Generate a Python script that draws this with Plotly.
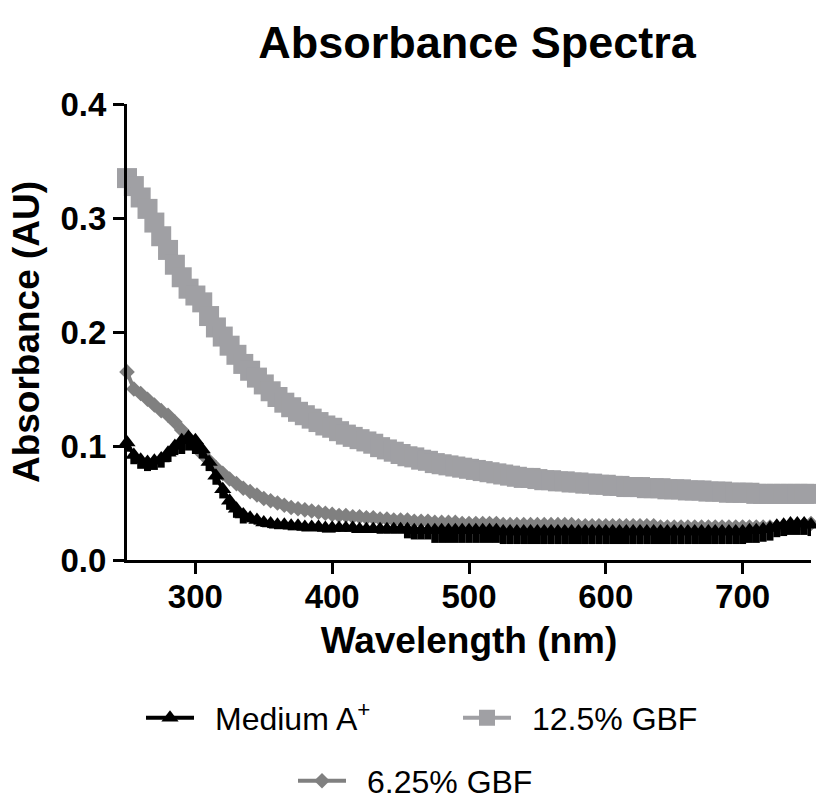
import plotly.graph_objects as go

# Wavelength grid of the scan (nm)
wavelength = list(range(250, 751, 5))

# Medium A+ absorbance (AU)
medium_a = [
    0.103, 0.092, 0.088, 0.086, 0.087, 0.089, 0.094, 0.100, 0.105, 0.108,  # 250-295
    0.105, 0.097, 0.086, 0.074, 0.062, 0.052, 0.045, 0.040, 0.037, 0.035,  # 300-345
    0.033, 0.032, 0.031, 0.031, 0.030, 0.030, 0.029, 0.029, 0.029, 0.028,  # 350-395
    0.028, 0.028, 0.028, 0.028, 0.027, 0.027, 0.027, 0.027, 0.027, 0.027,  # 400-445
    0.027, 0.027, 0.026, 0.026, 0.026, 0.026, 0.026, 0.026, 0.026, 0.026,  # 450-495
    0.026, 0.026, 0.026, 0.026, 0.026, 0.025, 0.025, 0.025, 0.025, 0.025,  # 500-545
    0.025, 0.025, 0.025, 0.025, 0.025, 0.025, 0.025, 0.025, 0.025, 0.025,  # 550-595
    0.025, 0.025, 0.025, 0.025, 0.025, 0.025, 0.025, 0.025, 0.025, 0.025,  # 600-645
    0.025, 0.025, 0.025, 0.025, 0.025, 0.025, 0.025, 0.025, 0.025, 0.025,  # 650-695
    0.025, 0.026, 0.026, 0.027, 0.028, 0.030, 0.031, 0.032, 0.032, 0.032,  # 700-745
    0.031,                                                                 # 750
]

# Medium A+ spread below the mean (AU)
medium_a_sd = [
    0.008, 0.008, 0.008, 0.008, 0.008, 0.008, 0.008, 0.008, 0.012, 0.012,
    0.012, 0.008, 0.008, 0.008, 0.008, 0.008, 0.008, 0.008, 0.004, 0.004,
    0.004, 0.004, 0.004, 0.004, 0.004, 0.004, 0.004, 0.004, 0.004, 0.004,
    0.004, 0.002, 0.002, 0.002, 0.002, 0.002, 0.002, 0.004, 0.004, 0.004,
    0.004, 0.008, 0.008, 0.008, 0.008, 0.011, 0.011, 0.011, 0.011, 0.011,
    0.011, 0.011, 0.011, 0.011, 0.011, 0.011, 0.011, 0.011, 0.011, 0.011,
    0.011, 0.011, 0.011, 0.011, 0.011, 0.011, 0.011, 0.011, 0.011, 0.011,
    0.011, 0.011, 0.011, 0.011, 0.011, 0.011, 0.011, 0.011, 0.011, 0.011,
    0.011, 0.011, 0.011, 0.011, 0.011, 0.011, 0.011, 0.011, 0.011, 0.011,
    0.011, 0.011, 0.011, 0.011, 0.011, 0.010, 0.010, 0.010, 0.010, 0.010,
    0.010,
]

# 12.5% GBF absorbance (AU)
gbf_12_5 = [
    0.335, 0.328, 0.318, 0.308, 0.296, 0.284, 0.272, 0.259, 0.248, 0.238,  # 250-295
    0.232, 0.226, 0.214, 0.204, 0.196, 0.188, 0.180, 0.172, 0.166, 0.160,  # 300-345
    0.154, 0.148, 0.143, 0.138, 0.134, 0.130, 0.127, 0.124, 0.121, 0.118,  # 350-395
    0.116, 0.113, 0.110, 0.108, 0.106, 0.104, 0.102, 0.099, 0.097, 0.095,  # 400-445
    0.093, 0.091, 0.090, 0.088, 0.087, 0.085, 0.084, 0.083, 0.082, 0.081,  # 450-495
    0.080, 0.079, 0.078, 0.077, 0.076, 0.075, 0.074, 0.073, 0.072, 0.072,  # 500-545
    0.071, 0.070, 0.070, 0.069, 0.069, 0.068, 0.068, 0.067, 0.067, 0.066,  # 550-595
    0.066, 0.065, 0.065, 0.064, 0.064, 0.064, 0.063, 0.063, 0.063, 0.062,  # 600-645
    0.062, 0.062, 0.061, 0.061, 0.061, 0.060, 0.060, 0.060, 0.059, 0.059,  # 650-695
    0.059, 0.059, 0.058, 0.058, 0.058, 0.058, 0.058, 0.058, 0.058, 0.058,  # 700-745
    0.058,                                                                 # 750
]

# 6.25% GBF absorbance (AU)
gbf_6_25 = [
    0.165, 0.150, 0.146, 0.141, 0.136, 0.131, 0.127, 0.121, 0.114, 0.107,  # 250-295
    0.100, 0.093, 0.087, 0.081, 0.076, 0.071, 0.067, 0.063, 0.060, 0.057,  # 300-345
    0.054, 0.052, 0.050, 0.048, 0.046, 0.045, 0.044, 0.043, 0.042, 0.041,  # 350-395
    0.040, 0.039, 0.039, 0.038, 0.038, 0.037, 0.037, 0.036, 0.036, 0.035,  # 400-445
    0.035, 0.035, 0.034, 0.034, 0.034, 0.033, 0.033, 0.033, 0.033, 0.032,  # 450-495
    0.032, 0.032, 0.032, 0.032, 0.032, 0.031, 0.031, 0.031, 0.031, 0.031,  # 500-545
    0.031, 0.031, 0.031, 0.031, 0.031, 0.031, 0.030, 0.030, 0.030, 0.030,  # 550-595
    0.030, 0.030, 0.030, 0.030, 0.030, 0.030, 0.030, 0.030, 0.029, 0.029,  # 600-645
    0.029, 0.029, 0.029, 0.029, 0.029, 0.029, 0.029, 0.029, 0.029, 0.029,  # 650-695
    0.029, 0.029, 0.029, 0.029, 0.029, 0.029, 0.029, 0.030, 0.030, 0.031,  # 700-745
    0.032,                                                                 # 750
]

x_ticks = [300, 400, 500, 600, 700]
y_ticks = [0.0, 0.1, 0.2, 0.3, 0.4]

FONT = "Liberation Sans, Arial, Helvetica, sans-serif"
BLACK = "#000000"
LIGHT_GREY = "#A0A0A4"
MID_GREY = "#808080"
GAP = "\u2002"  # spacing between legend symbol and label

fig = go.Figure()

# drawing order: light squares at the back, triangles on top
fig.add_trace(go.Scatter(
    x=wavelength, y=gbf_12_5, name=GAP + "12.5% GBF", mode="lines+markers",
    line=dict(color=LIGHT_GREY, width=4),
    marker=dict(symbol="square", size=20, color=LIGHT_GREY),
    cliponaxis=False, legend="legend2",
))
fig.add_trace(go.Scatter(
    x=wavelength, y=gbf_6_25, name=GAP + "6.25% GBF", mode="lines+markers",
    line=dict(color=MID_GREY, width=4),
    marker=dict(symbol="diamond", size=12, color=MID_GREY),
    cliponaxis=False, legend="legend3",
))
fig.add_trace(go.Scatter(
    x=wavelength, y=medium_a, name=GAP + "Medium A<sup>+</sup>", mode="lines+markers",
    line=dict(color=BLACK, width=4),
    marker=dict(symbol="triangle-up", size=15, color=BLACK),
    error_y=dict(type="data", symmetric=False, array=[0] * len(medium_a_sd),
                 arrayminus=medium_a_sd, color=BLACK, thickness=7, width=0),
    cliponaxis=False, legend="legend",
))

axis_common = dict(
    showline=True, linecolor=BLACK, linewidth=3,
    ticks="outside", ticklen=11, tickwidth=3, tickcolor=BLACK,
    showgrid=False, zeroline=False, automargin=False,
    tickfont=dict(family=FONT, size=33, color=BLACK, weight="bold"),
)

legend_common = dict(
    orientation="h", xref="container", yref="container",
    xanchor="left", yanchor="middle", itemwidth=48,
    font=dict(family=FONT, size=32, color=BLACK),
    bgcolor="rgba(0,0,0,0)",
)

fig.update_layout(
    width=816, height=794, autosize=False,
    margin=dict(l=127, r=5, t=104, b=234),
    paper_bgcolor="white", plot_bgcolor="white",
    title=dict(
        text="Absorbance Spectra", x=477 / 816, xref="container", xanchor="center",
        y=1 - 42 / 794, yref="container", yanchor="middle",
        font=dict(family=FONT, size=45, color=BLACK, weight="bold"),
    ),
    xaxis=dict(
        range=[250, 750], tickvals=x_ticks, ticklabelstandoff=-6,
        title=dict(text="Wavelength (nm)", standoff=14,
                   font=dict(family=FONT, size=37, color=BLACK, weight="bold")),
        **axis_common,
    ),
    yaxis=dict(
        range=[0, 0.4], tickvals=y_ticks, tickformat=".1f",
        title=dict(text="Absorbance (AU)", standoff=10,
                   font=dict(family=FONT, size=37, color=BLACK, weight="bold")),
        **axis_common,
    ),
    legend=dict(x=141 / 816, y=1 - 718 / 794, **legend_common),
    legend2=dict(x=458 / 816, y=1 - 718 / 794, **legend_common),
    legend3=dict(x=293 / 816, y=1 - 781 / 794, **legend_common),
    showlegend=True,
)

fig.write_html("out.html")
